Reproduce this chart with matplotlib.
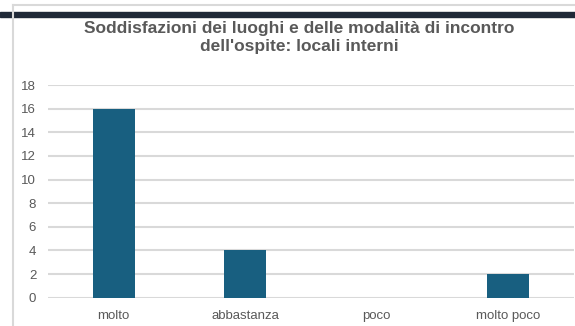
import matplotlib
matplotlib.use("Agg")
import matplotlib.pyplot as plt
from matplotlib.patches import Rectangle
from matplotlib.lines import Line2D

categorie = ["molto", "abbastanza", "poco", "molto poco"]
valori = [16, 4, 0, 2]
yticks = [0, 2, 4, 6, 8, 10, 12, 14, 16, 18]
titolo = "Soddisfazioni dei luoghi e delle modalità di incontro\ndell'ospite: locali interni"

plt.rcParams["font.family"] = ["Liberation Sans", "DejaVu Sans"]

W, H = 575, 326
fig = plt.figure(figsize=(W / 100, H / 100), dpi=100)

# cornice del grafico e banda scura in alto
fig.add_artist(Rectangle((0, 1 - 17 / H), 1, 5 / H, transform=fig.transFigure,
                         color="#1f2937", zorder=1))
fig.add_artist(Line2D([12.5 / W, 12.5 / W], [0, 1 - 4.5 / H], transform=fig.transFigure,
                      color="#d9d9d9", lw=1.5, zorder=2))
fig.add_artist(Line2D([12.5 / W, 1], [1 - 4.5 / H, 1 - 4.5 / H], transform=fig.transFigure,
                      color="#d9d9d9", lw=1.5, zorder=2))

left, right = 48 / W, 574 / W
bottom, top = (H - 297.7) / H, (H - 85) / H
ax = fig.add_axes([left, bottom, right - left, top - bottom])

x = range(len(categorie))
ax.bar(x, valori, width=0.32, color="#185f80", zorder=3)
ax.set_xlim(-0.5, len(categorie) - 0.5)
ax.set_ylim(0, 18)
ax.set_yticks(yticks)
ax.set_xticks(list(x))
ax.set_xticklabels(categorie)
ax.grid(axis="y", color="#d9d9d9", lw=1.5, zorder=0)
for s in ax.spines.values():
    s.set_visible(False)
ax.tick_params(length=0, colors="#595959", labelsize=9.5)
ax.tick_params(axis="y", pad=8.5)
ax.tick_params(axis="x", pad=8.5)

fig.text(299 / W, 1 - 37 / H, titolo, ha="center", va="center",
         fontsize=12.5, fontweight="bold", color="#595959", linespacing=1.25)

fig.savefig("out.png", dpi=100)
